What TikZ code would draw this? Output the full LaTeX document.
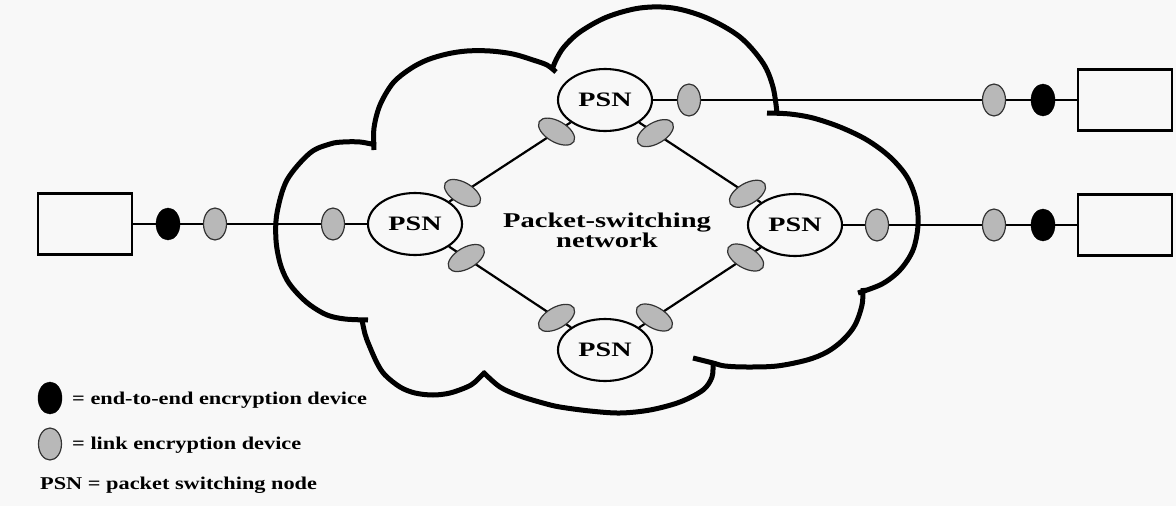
\documentclass[tikz,border=0pt]{standalone}
\usepackage{fontspec}
\setmainfont{Liberation Serif}
\usepackage{graphicx}
\usetikzlibrary{shapes.geometric,calc}
\definecolor{bgcol}{RGB}{248,248,248}
\definecolor{devgray}{RGB}{184,184,184}
\newcommand{\hstretch}[2]{\scalebox{#1}[1]{#2}}
\begin{document}
\begin{tikzpicture}[x=1pt,y=-1pt,
  psn/.style={ellipse, draw, line width=2.1pt, fill=bgcol, minimum width=94pt, minimum height=62pt, inner sep=0pt, font=\fontsize{20.5}{22}\selectfont\bfseries},
  linkdev/.style={ellipse, draw=black!80, line width=1.2pt, fill=devgray, minimum width=23pt, minimum height=32pt, inner sep=0pt},
  e2edev/.style={ellipse, draw=black, fill=black, minimum width=24pt, minimum height=32pt, inner sep=0pt},
  diagdev/.style={linkdev, minimum width=40pt, minimum height=21pt},
  host/.style={draw, line width=2.2pt, minimum width=94pt, minimum height=61pt, inner sep=0pt},
  wire/.style={line width=2.2pt},
  cloudline/.style={line width=5pt},
  lbl/.style={font=\fontsize{18}{20}\selectfont\bfseries, inner sep=0pt, anchor=base west},
  nettext/.style={font=\fontsize{21}{19}\selectfont\bfseries, align=center, inner sep=0pt}
]
\fill[bgcol] (0,0) rectangle (1176,506);
\useasboundingbox (0,0) rectangle (1176,506);

% cloud
\draw[cloudline] plot[smooth, tension=0.55] coordinates {(374,150) (374,128) (380,105) (393,83) (410,69) (427,60) (447,54) (467,51) (490,51) (513,54) (533,60) (547,65) (556,72)};
\draw[cloudline] plot[smooth, tension=0.55] coordinates {(552,70) (556,60) (564,47) (580,32) (607,17) (640,8) (673,8) (707,18) (740,37) (763,63) (773,87) (777,113)};
\draw[cloudline] plot[smooth, tension=0.55] coordinates {(767,113) (790,114) (813,118) (840,127) (867,140) (890,157) (907,177) (916,200) (918,225) (913,250) (900,270) (882,284) (858,293)};
\draw[cloudline] plot[smooth, tension=0.55] coordinates {(863,288) (862,305) (855,325) (843,340) (827,352) (807,360) (777,366) (747,367) (725,366) (713,363) (693,358)};
\draw[cloudline] plot[smooth, tension=0.55] coordinates {(713,363) (712,377) (703,390) (680,402) (650,410) (620,413) (590,411) (560,407) (543,403) (520,396) (500,387) (483,372)};
\draw[cloudline] plot[smooth, tension=0.55] coordinates {(485,372) (475,382) (467,387) (450,393) (433,395) (415,393) (400,387) (385,375) (377,363) (369,345) (365,334) (362,320)};
\draw[cloudline] plot[smooth, tension=0.55] coordinates {(368,320) (345,319) (327,315) (310,305) (297,293) (287,280) (280,263) (276,240) (277,213) (287,180) (310,153) (330,144) (343,142) (360,142) (376,145)};

% hosts and switching nodes
\node[host] (hL) at (85,224) {};
\node[host] (hT) at (1125,100) {};
\node[host] (hB) at (1125,225) {};
\node[psn] (pT) at (605,100) {\hstretch{1.37}{PSN}};
\node[psn] (pL) at (415,224) {\hstretch{1.37}{PSN}};
\node[psn] (pR) at (795,225) {\hstretch{1.37}{PSN}};
\node[psn] (pB) at (605,350) {\hstretch{1.37}{PSN}};
\node[nettext] (net) at (607,230) {\hstretch{1.36}{Packet-switching}\\\hstretch{1.36}{network}};

% connectors
\draw[wire] (hL) -- (pL);
\draw[wire] (pT) -- (hT);
\draw[wire] (pR) -- (hB);
\draw[wire] (pT) -- (pL);
\draw[wire] (pT) -- (pR);
\draw[wire] (pL) -- (pB);
\draw[wire] (pB) -- (pR);

% encryption devices
\node[e2edev] (eL) at (168,224) {};
\node[linkdev] (lL1) at (215,224) {};
\node[linkdev] (lL2) at (333,224) {};
\node[linkdev] (lT1) at (689,100) {};
\node[linkdev] (lT2) at (994,100) {};
\node[e2edev] (eT) at (1043,100) {};
\node[linkdev] (lR1) at (877,225) {};
\node[linkdev] (lR2) at (994,225) {};
\node[e2edev] (eR) at (1043,225) {};

\node[diagdev, rotate=-30] (dTL1) at ($(pT.center)!0.255!(pL.center)$) {};
\node[diagdev, rotate=-30] (dTL2) at ($(pT.center)!0.75!(pL.center)$) {};
\node[diagdev, rotate=30] (dTR1) at ($(pT.center)!0.265!(pR.center)$) {};
\node[diagdev, rotate=30] (dTR2) at ($(pT.center)!0.75!(pR.center)$) {};
\node[diagdev, rotate=30] (dBL1) at ($(pL.center)!0.27!(pB.center)$) {};
\node[diagdev, rotate=30] (dBL2) at ($(pL.center)!0.745!(pB.center)$) {};
\node[diagdev, rotate=-30] (dBR1) at ($(pB.center)!0.26!(pR.center)$) {};
\node[diagdev, rotate=-30] (dBR2) at ($(pB.center)!0.74!(pR.center)$) {};

% legend
\node[e2edev] (kE) at (50,398) {};
\node[lbl] (tE) at (72,404) {\hstretch{1.24}{= end-to-end encryption device}};
\node[linkdev] (kL) at (50,444) {};
\node[lbl] (tL) at (72,449) {\hstretch{1.24}{= link encryption device}};
\node[lbl] (tP) at (40,489) {\hstretch{1.24}{PSN = packet switching node}};
\end{tikzpicture}
\end{document}
